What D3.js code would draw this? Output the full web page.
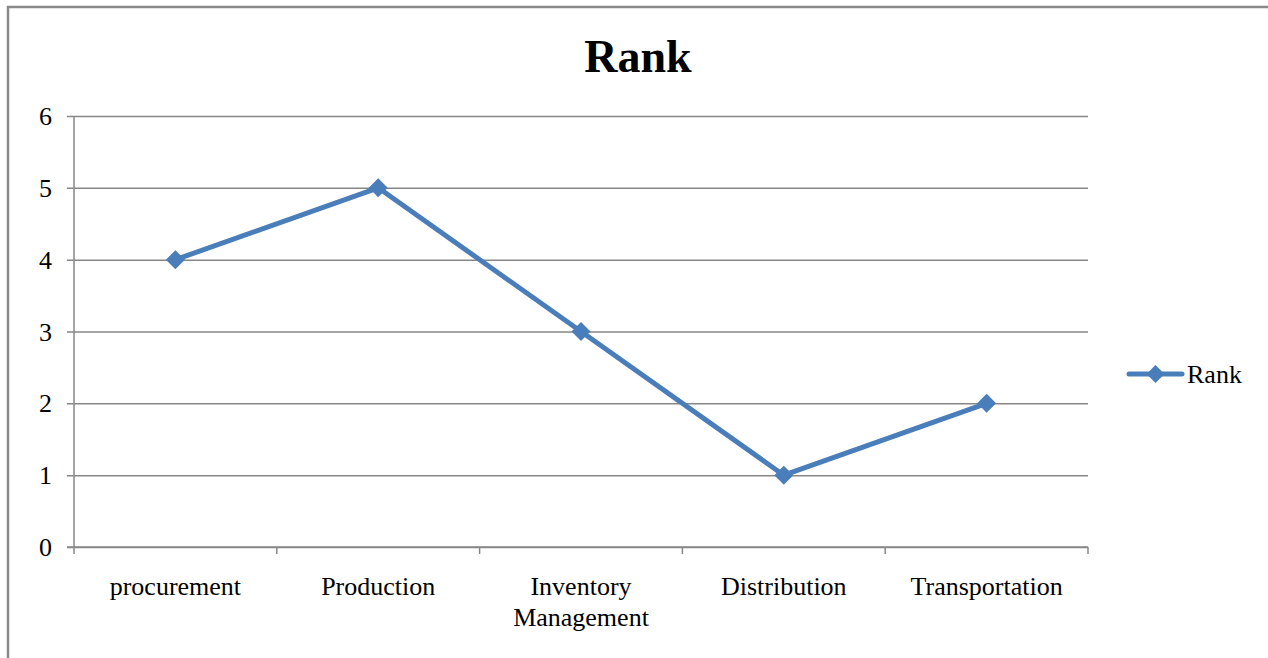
<!DOCTYPE html>
<html><head><meta charset="utf-8">
<script src="https://cdn.jsdelivr.net/npm/d3@7"></script>
<style>body{margin:0;background:#fff}svg{display:block}</style>
</head><body>
<svg id="c" width="1268" height="658"></svg>
<script>
const categories = ["procurement", "Production", "Inventory Management", "Distribution", "Transportation"];
const categoryLines = [["procurement"], ["Production"], ["Inventory", "Management"], ["Distribution"], ["Transportation"]];
const rankValues = [4, 5, 3, 1, 2];
const yTicks = [0, 1, 2, 3, 4, 5, 6];
const seriesName = "Rank";
const titleText = "Rank";

const svg = d3.select("#c");
const font = "'Liberation Serif','Times New Roman',serif";
const gray = "#878787";
const blue = "#4a7ebb";

svg.append("rect").attr("x", 8).attr("y", 7).attr("width", 1300).attr("height", 700)
  .attr("fill", "none").attr("stroke", "#8a8a8a").attr("stroke-width", 2.5);

const L = 74, R = 1088, T = 116, B = 547;
const x = d3.scaleBand().domain(categories).range([L, R]);
const y = d3.scaleLinear().domain([0, 6]).range([B, T]);

svg.append("text").attr("x", 638).attr("y", 72).attr("text-anchor", "middle")
  .style("font-family", font).attr("font-weight", "bold").attr("font-size", 46).text(titleText);

// gridlines + y ticks
const yAxis = d3.axisLeft(y).tickValues(yTicks).tickFormat(d3.format("d"))
  .tickSize(-(R - L)).tickSizeOuter(0).tickPadding(22);
const gy = svg.append("g").attr("transform", `translate(${L},0)`).call(yAxis);
gy.attr("font-family", null).attr("font-size", null);
gy.select(".domain").remove();
gy.selectAll(".tick line").attr("stroke", gray).attr("stroke-width", 1.5).attr("x1", -7);
gy.selectAll(".tick text").style("font-family", font).attr("font-size", 26).attr("fill", "#000").attr("dy", "0.33em");

// y axis line
svg.append("line").attr("x1", L).attr("x2", L).attr("y1", T).attr("y2", B)
  .attr("stroke", gray).attr("stroke-width", 1.5);
// x axis line
svg.append("line").attr("x1", L - 7).attr("x2", R).attr("y1", B).attr("y2", B)
  .attr("stroke", gray).attr("stroke-width", 1.5);
// category boundary ticks
const bounds = categories.map(c => x(c)).concat([R]);
svg.selectAll(".xt").data(bounds).join("line")
  .attr("x1", d => d).attr("x2", d => d).attr("y1", B).attr("y2", B + 7)
  .attr("stroke", gray).attr("stroke-width", 1.5);

// x labels
const xl = svg.selectAll(".xl").data(categories).join("text")
  .attr("text-anchor", "middle").style("font-family", font).attr("font-size", 26).attr("fill", "#000");
xl.each(function(d, i) {
  const t = d3.select(this);
  categoryLines[i].forEach((ln, j) => {
    t.append("tspan").attr("x", x(d) + x.bandwidth() / 2).attr("y", 595 + j * 31).text(ln);
  });
});

// line
const line = d3.line().x((d, i) => x(categories[i]) + x.bandwidth() / 2).y(d => y(d));
svg.append("path").datum(rankValues).attr("d", line).attr("fill", "none")
  .attr("stroke", blue).attr("stroke-width", 5).attr("stroke-linejoin", "round");

const diamond = (cx, cy, r) => `M${cx},${cy - r}L${cx + r},${cy}L${cx},${cy + r}L${cx - r},${cy}Z`;
svg.selectAll(".mk").data(rankValues).join("path")
  .attr("d", (d, i) => diamond(x(categories[i]) + x.bandwidth() / 2, y(d), 9.5))
  .attr("fill", blue);

// legend
svg.append("line").attr("x1", 1129).attr("x2", 1182).attr("y1", 374).attr("y2", 374)
  .attr("stroke", blue).attr("stroke-width", 5).attr("stroke-linecap", "round");
svg.append("path").attr("d", diamond(1155.5, 374, 9)).attr("fill", blue);
svg.append("text").attr("x", 1187).attr("y", 383).style("font-family", font).attr("font-size", 26)
  .attr("fill", "#000").text(seriesName);
</script>
</body></html>
